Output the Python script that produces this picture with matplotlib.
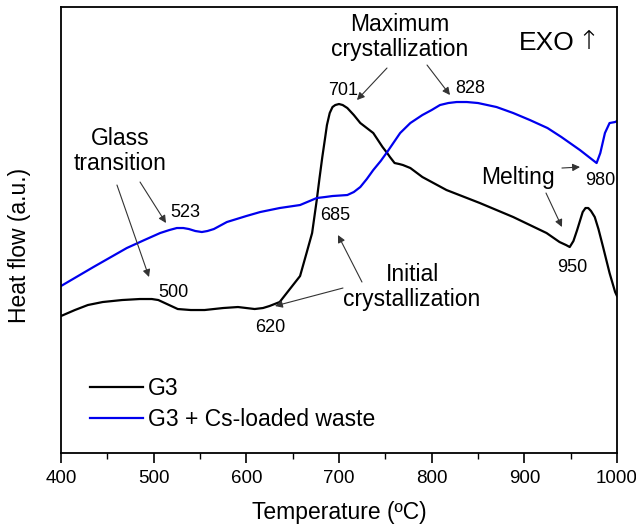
import matplotlib
matplotlib.use('Agg')
import matplotlib.pyplot as plt
from matplotlib.ticker import MultipleLocator

plt.rcParams['font.family'] = ['Liberation Sans', 'DejaVu Sans']

# DTA curves, heat flow in arbitrary units
g3_temp = [400, 415, 429, 445, 466, 485, 498, 505, 512, 519, 526, 540, 555, 575,
           591, 600, 609, 618, 625, 636, 647, 658, 665, 671, 676, 679, 682, 685,
           687, 690, 693, 696, 700, 704, 709, 716, 723, 730, 737, 742, 747, 752,
           755, 760, 765, 769, 777, 790, 816, 852, 888, 924, 938, 945, 949, 953,
           957, 960, 963, 966, 969, 972, 976, 980, 985, 992, 998, 1000]
g3_flow = [137, 143, 148, 151, 153, 154, 154, 153, 150, 147, 144, 143, 143, 145,
           146, 145, 144, 145, 147, 151, 164, 177, 200, 220, 253, 275, 296, 315,
           328, 340, 346, 348, 349, 348, 345, 338, 330, 325, 320, 313, 306, 300,
           296, 290, 289, 288, 285, 276, 263, 250, 236, 220, 211, 208, 206, 212,
           223, 232, 241, 245, 245, 242, 236, 224, 206, 180, 161, 157]

cs_temp = [400, 435, 471, 490, 507, 517, 525, 532, 538, 545, 552, 558, 565, 579,
           600, 615, 636, 658, 676, 685, 693, 709, 716, 723, 730, 737, 745, 752,
           766, 777, 790, 800, 809, 818, 827, 838, 850, 870, 888, 906, 925, 940,
           960, 978, 982, 987, 992, 998, 1000]
cs_flow = [167, 186, 205, 213, 220, 223, 225, 225, 224, 222, 221, 222, 224, 231,
           237, 241, 245, 248, 255, 256, 257, 258, 261, 266, 274, 283, 292, 301,
           320, 330, 338, 343, 348, 350, 351, 351, 350, 346, 340, 333, 325, 316,
           303, 290, 300, 320, 330, 331, 332]

# peak labels: (text, x, y, fontsize)
labels = [
    ("Glass\ntransition", 463.7, 302, 16.5),
    ("500", 520.9, 161, 13),
    ("523", 533.8, 241, 13),
    ("620", 625.5, 126, 13),
    ("685", 695.7, 238, 13),
    ("701", 704.3, 363, 13),
    ("Maximum\ncrystallization", 765.8, 416, 16.5),
    ("828", 841.4, 365, 13),
    ("Initial\ncrystallization", 778.8, 166, 16.5),
    ("Melting", 893.2, 276, 16.5),
    ("980", 981.6, 273, 13),
    ("950", 951.4, 186, 13),
]

# arrows: (x_from, y_from, x_to, y_to)
arrows = [
    (460.4, 268, 495.0, 176),
    (485.3, 271, 513.3, 230),
    (751.8, 385, 719.4, 353),
    (795.0, 388, 819.8, 358),
    (704.3, 165, 630.9, 147),
    (724.8, 171, 698.9, 218),
    (923.4, 260, 940.6, 226),
    (940.6, 285, 960.1, 286),
]

fig = plt.figure(figsize=(6.36, 5.28), dpi=100)
ax = fig.add_axes([0.0959, 0.1420, 0.8742, 0.8447])

ax.plot(g3_temp, g3_flow, color='black', lw=1.6, label='G3')
ax.plot(cs_temp, cs_flow, color='#0000ee', lw=1.6, label='G3 + Cs-loaded waste')

for txt, x, y, fs in labels:
    ax.text(x, y, txt, fontsize=fs, ha='center', va='center', linespacing=1.1)

for x0, y0, x1, y1 in arrows:
    ax.annotate('', xy=(x1, y1), xytext=(x0, y0),
                arrowprops=dict(arrowstyle='-|>', color='#333333', lw=0.8,
                                mutation_scale=11, shrinkA=0, shrinkB=0))

ax.text(924, 410, 'EXO', fontsize=19, ha='center', va='center')
ax.text(969, 412, '\u2191', fontsize=19, ha='center', va='center',
        family=['DejaVu Sans'], fontweight='light')

ax.set_xlim(400, 1000)
ax.set_ylim(0, 446)
ax.xaxis.set_major_locator(MultipleLocator(100))
ax.xaxis.set_minor_locator(MultipleLocator(50))
ax.set_yticks([])
ax.tick_params(axis='x', which='major', direction='out', length=7, width=1.2,
               labelsize=13.5, pad=5)
ax.tick_params(axis='x', which='minor', direction='out', length=4, width=1.0)
for s in ax.spines.values():
    s.set_linewidth(1.3)

ax.set_xlabel('Temperature (ºC)', fontsize=16.5, labelpad=10)
ax.set_ylabel('Heat flow (a.u.)', fontsize=16.5)
ax.yaxis.set_label_coords(-0.054, 0.466)

ax.legend(loc='lower left', bbox_to_anchor=(0.052, 0.05), frameon=False,
          fontsize=16.5, handlelength=2.3, handletextpad=0.25, labelspacing=0.35,
          borderpad=0, borderaxespad=0)

fig.savefig('out.png', dpi=100)
